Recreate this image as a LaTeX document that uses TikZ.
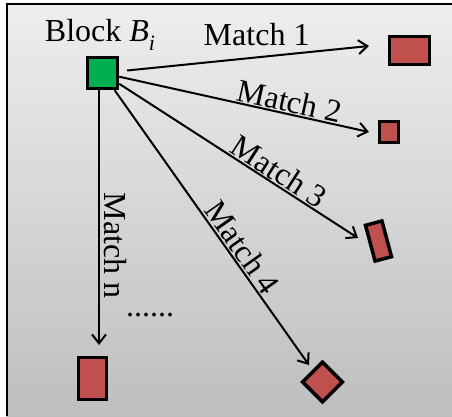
\documentclass[tikz,border=0pt]{standalone}
\usepackage{fontspec}
\setmainfont{Liberation Serif}
\usetikzlibrary{arrows.meta}
\definecolor{bgtop}{RGB}{238,238,238}
\definecolor{bgbot}{RGB}{190,190,190}
\definecolor{blkgreen}{RGB}{0,176,80}
\definecolor{matchred}{RGB}{192,80,77}
\begin{document}
\begin{tikzpicture}[x=1pt,y=-1pt,
  blk/.style={draw=black, line width=3.5pt, fill=blkgreen, minimum width=30pt, minimum height=31pt, inner sep=0pt},
  mbox/.style={draw=black, line width=3.5pt, fill=matchred, inner sep=0pt},
  conn/.style={line width=2pt, -{Straight Barb[length=9pt,width=14pt,line width=2pt]}},
  lbl/.style={font=\fontsize{32}{38}\selectfont, inner sep=2pt},
]
\useasboundingbox (0,0) rectangle (452,416);
\shade[top color=bgtop, bottom color=bgbot] (6,3) rectangle (452,416);
\draw[line width=2pt] (6.5,416) -- (6.5,3.5) -- (452,3.5);

\node[blk] (g) at (102.5,73) {};
\node[lbl, anchor=base] (bl) at (100,41) {Block \textit{B}\raisebox{-9pt}{\fontsize{22}{22}\selectfont\textit{i}}};

\node[mbox, minimum width=40pt, minimum height=28pt] (m1) at (409.5,50.5) {};
\node[mbox, minimum width=19pt, minimum height=21pt] (m2) at (389,132) {};
\node[mbox, minimum width=17pt, minimum height=37pt, rotate=15] (m3) at (378.5,241) {};
\node[mbox, minimum width=28pt, minimum height=28pt, rotate=45] (m4) at (322.5,382) {};
\node[mbox, minimum width=28pt, minimum height=42pt] (mn) at (92.5,378.5) {};

\coordinate (t1) at (369,46);
\coordinate (t2) at (369,132);
\coordinate (t3) at (358,238);
\coordinate (t4) at (309,365);
\coordinate (tn) at (99,345);

\draw[conn, shorten <=8pt] (g) -- (t1) node[lbl, pos=0.55, above=9pt] (l1) {Match 1};
\draw[conn] (g) -- (t2) node[lbl, pos=0.67, sloped, above, inner sep=1pt] (l2) {Match 2};
\draw[conn] (g) -- (t3) node[lbl, pos=0.64, sloped, above, inner sep=1pt] (l3) {Match 3};
\draw[conn] (g) -- (t4) node[lbl, pos=0.60, sloped, above, inner sep=1.5pt] (l4) {Match 4};
\draw[conn] (g.south -| tn) -- (tn) node[lbl, pos=0.61, sloped, above, inner sep=4pt] (ln) {Match n};

\node[lbl, anchor=base] (dots) at (150,316) {......};
\end{tikzpicture}
\end{document}
